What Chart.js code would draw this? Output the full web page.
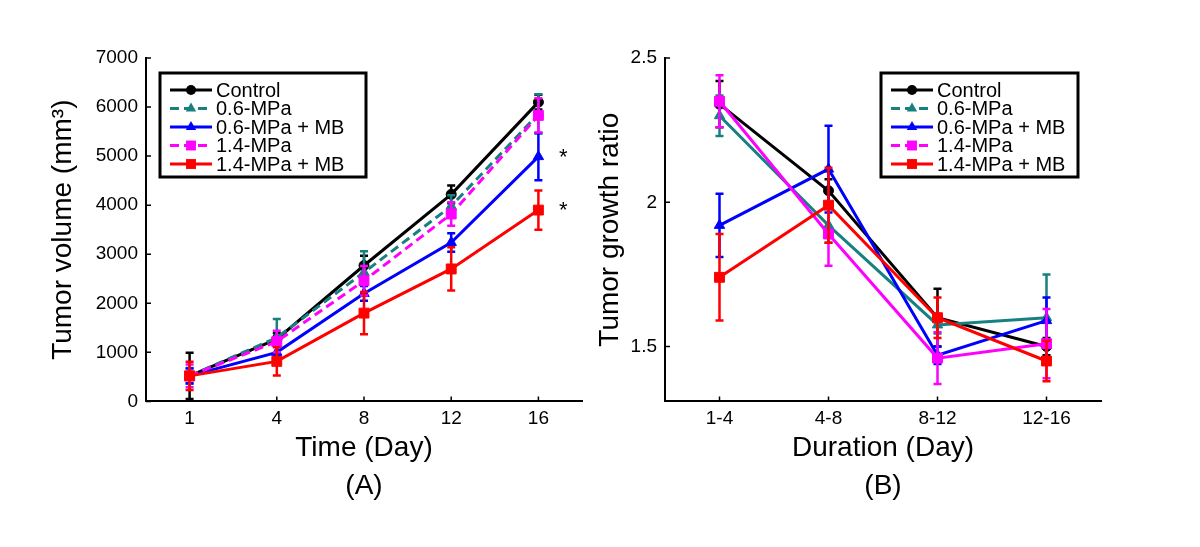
<!DOCTYPE html>
<html><head><meta charset="utf-8">
<script src="https://cdn.jsdelivr.net/npm/chart.js@4.4.0/dist/chart.umd.min.js"></script>
<style>
html,body{margin:0;padding:0;background:#fff;width:1200px;height:547px;overflow:hidden}
#cA{position:absolute;left:0;top:0}
#cB{position:absolute;left:590px;top:0}
</style></head><body>
<canvas id="cA" width="600" height="547"></canvas>
<canvas id="cB" width="610" height="547"></canvas>
<script>
// ---------- DATA ----------
const seriesNames = ['Control', '0.6-MPa', '0.6-MPa + MB', '1.4-MPa', '1.4-MPa + MB'];

// (A) tumor volume (mm^3) by day
const days = ['1', '4', '8', '12', '16'];
const volControl = [520, 1270, 2770, 4220, 6100];
const volControlErr = [470, 120, 200, 180, 150];
const vol06 = [520, 1300, 2630, 3980, 5860];
const vol06Err = [160, 380, 430, 220, 400];
const vol06MB = [520, 1000, 2200, 3240, 4990];
const vol06MBErr = [150, 130, 150, 190, 480];
const vol14 = [520, 1220, 2460, 3820, 5830];
const vol14Err = [230, 220, 300, 240, 350];
const vol14MB = [520, 816, 1800, 2700, 3900];
const vol14MBErr = [290, 290, 430, 440, 400];
const volSignificant = ['', '', '*', '', '*'];
const volTicks = [0, 1000, 2000, 3000, 4000, 5000, 6000, 7000];

// (B) tumor growth ratio by duration
const durations = ['1-4', '4-8', '8-12', '12-16'];
const grControl = [2.34, 2.04, 1.60, 1.50];
const grControlErr = [0.08, 0.04, 0.10, 0.03];
const gr06 = [2.30, 1.92, 1.575, 1.60];
const gr06Err = [0.07, 0.06, 0.03, 0.15];
const gr06MB = [1.92, 2.115, 1.47, 1.59];
const gr06MBErr = [0.11, 0.15, 0.03, 0.08];
const gr14 = [2.35, 1.89, 1.46, 1.51];
const gr14Err = [0.09, 0.11, 0.09, 0.12];
const gr14MB = [1.74, 1.99, 1.60, 1.45];
const gr14MBErr = [0.15, 0.13, 0.07, 0.07];
const grTicks = [1.5, 2, 2.5];

// ---------- STYLE ----------
const FONT = "'Liberation Sans', Arial, Helvetica, sans-serif";
const colors = ['#000000', '#178080', '#0000ff', '#ff00ff', '#ff0000'];
const markers = ['circle', 'triangle', 'triangle', 'rect', 'rect'];
const markerR = [5, 6, 6, 7, 7];
const dashes = [[], [9, 5], [], [9, 5], []];

function makeDatasets(values, errors, useDash) {
  return values.map((v, i) => ({
    label: seriesNames[i],
    data: v,
    errors: errors[i],
    borderColor: colors[i],
    backgroundColor: colors[i],
    pointBackgroundColor: colors[i],
    pointBorderColor: colors[i],
    pointStyle: markers[i],
    pointRadius: markerR[i],
    pointBorderWidth: 1,
    borderWidth: 3,
    borderDash: useDash ? dashes[i] : [],
    legendDash: dashes[i],
    tension: 0,
    fill: false,
    order: 10 - i
  }));
}

function drawMarker(ctx, style, x, y, r, color) {
  ctx.save();
  ctx.fillStyle = color; ctx.strokeStyle = color; ctx.setLineDash([]);
  ctx.beginPath();
  if (style === 'circle') {
    ctx.arc(x, y, r, 0, Math.PI * 2);
  } else if (style === 'triangle') {
    let a = 0;
    ctx.moveTo(x + Math.sin(a) * r, y - Math.cos(a) * r);
    a += 2 * Math.PI / 3;
    ctx.lineTo(x + Math.sin(a) * r, y - Math.cos(a) * r);
    a += 2 * Math.PI / 3;
    ctx.lineTo(x + Math.sin(a) * r, y - Math.cos(a) * r);
    ctx.closePath();
  } else {
    const s = r * Math.SQRT1_2;
    ctx.rect(x - s, y - s, 2 * s, 2 * s);
  }
  ctx.fill();
  ctx.restore();
}

const errorBarPlugin = {
  id: 'errorBars',
  afterDatasetDraw(chart, args) {
    const ds = chart.data.datasets[args.index];
    if (!ds.errors) return;
    const ys = chart.scales.y;
    const ctx = chart.ctx;
    ctx.save();
    ctx.strokeStyle = ds.borderColor;
    ctx.lineWidth = 2.5;
    ctx.setLineDash([]);
    args.meta.data.forEach((pt, i) => {
      const v = ds.data[i], e = ds.errors[i];
      const yt = ys.getPixelForValue(v + e), yb = ys.getPixelForValue(v - e);
      const x = pt.x, cw = 4;
      ctx.beginPath();
      ctx.moveTo(x, yt); ctx.lineTo(x, yb);
      ctx.moveTo(x - cw, yt); ctx.lineTo(x + cw, yt);
      ctx.moveTo(x - cw, yb); ctx.lineTo(x + cw, yb);
      ctx.stroke();
    });
    ctx.restore();
  }
};

const innerTicksPlugin = {
  id: 'innerTicks',
  afterDraw(chart) {
    const ctx = chart.ctx, ca = chart.chartArea;
    ctx.save();
    ctx.strokeStyle = '#000'; ctx.lineWidth = 1.5; ctx.setLineDash([]);
    const xs = chart.scales.x, ys = chart.scales.y;
    ctx.beginPath();
    xs.ticks.forEach((t, i) => {
      const px = xs.getPixelForTick(i);
      ctx.moveTo(px, ca.bottom); ctx.lineTo(px, ca.bottom - 5);
    });
    ys.ticks.forEach((t, i) => {
      const py = ys.getPixelForTick(i);
      ctx.moveTo(ca.left, py); ctx.lineTo(ca.left + 5, py);
    });
    ctx.stroke();
    ctx.restore();
  }
};

function makeLegendPlugin(cfg) {
  return {
    id: 'boxLegend',
    afterDraw(chart) {
      const ctx = chart.ctx, ca = chart.chartArea;
      const bx = cfg.side === 'left' ? ca.left + cfg.dx : ca.right - cfg.dx - cfg.w;
      const by = ca.top + cfg.dy;
      ctx.save();
      ctx.fillStyle = '#fff';
      ctx.fillRect(bx, by, cfg.w, cfg.h);
      ctx.strokeStyle = '#000'; ctx.lineWidth = 3; ctx.setLineDash([]);
      ctx.strokeRect(bx, by, cfg.w, cfg.h);
      ctx.font = '20px ' + FONT;
      ctx.textBaseline = 'middle';
      ctx.textAlign = 'left';
      chart.data.datasets.forEach((ds, i) => {
        const y = by + 17 + i * 18.5;
        ctx.strokeStyle = ds.borderColor; ctx.lineWidth = 3;
        ctx.setLineDash(ds.legendDash);
        ctx.beginPath();
        ctx.moveTo(bx + 10, y); ctx.lineTo(bx + 52, y);
        ctx.stroke();
        ctx.setLineDash([]);
        drawMarker(ctx, ds.pointStyle, bx + 31, y, ds.pointRadius, ds.borderColor);
        ctx.fillStyle = '#000';
        ctx.fillText(ds.label, bx + 56, y + 1);
      });
      ctx.restore();
    }
  };
}

const asteriskPlugin = {
  id: 'asterisks',
  afterDraw(chart) {
    const ctx = chart.ctx, ys = chart.scales.y;
    ctx.save();
    ctx.fillStyle = '#000';
    ctx.font = '22px ' + FONT;
    ctx.textAlign = 'center'; ctx.textBaseline = 'middle';
    volSignificant.forEach((s, i) => {
      if (!s) return;
      const meta = chart.getDatasetMeta(i);
      const last = meta.data.length - 1;
      const pt = meta.data[last];
      const v = chart.data.datasets[i].data[last];
      ctx.fillText(s, pt.x + 25, ys.getPixelForValue(v) + 1);
    });
    ctx.restore();
  }
};

function axisCommon(extra) {
  return Object.assign({
    grid: { display: true, drawOnChartArea: false, drawTicks: false },
    border: { display: true, color: '#000', width: 2 }
  }, extra);
}

const plainNumber = v => String(Math.round(v * 1000) / 1000);

// ---------- CHART A ----------
new Chart(document.getElementById('cA'), {
  type: 'line',
  data: {
    labels: days,
    datasets: makeDatasets([volControl, vol06, vol06MB, vol14, vol14MB],
                           [volControlErr, vol06Err, vol06MBErr, vol14Err, vol14MBErr], true)
  },
  options: {
    responsive: false, animation: false, devicePixelRatio: 1,
    layout: { padding: { left: 0, right: 18, top: 58, bottom: 44 } },
    plugins: {
      legend: { display: false }, tooltip: { enabled: false },
      title: { display: true, text: '(A)', position: 'bottom', fullSize: false, color: '#000',
               font: { family: FONT, size: 28, weight: 'normal' }, padding: { top: 4, bottom: 0 } }
    },
    scales: {
      x: axisCommon({
        type: 'category', offset: true,
        ticks: { color: '#000', font: { family: FONT, size: 19 }, padding: 6, maxRotation: 0 },
        title: { display: true, text: 'Time (Day)', color: '#000', font: { family: FONT, size: 28 }, padding: { top: 0, bottom: 0 } },
        afterFit: s => { s.height = 64; }
      }),
      y: axisCommon({
        min: volTicks[0], max: volTicks[volTicks.length - 1],
        ticks: { stepSize: volTicks[1] - volTicks[0], color: '#000', font: { family: FONT, size: 19 }, padding: 8, callback: plainNumber },
        title: { display: true, text: 'Tumor volume (mm³)', color: '#000', font: { family: FONT, size: 28 }, padding: { top: 46, bottom: 0 } },
        afterFit: s => { s.width = 146; }
      })
    }
  },
  plugins: [errorBarPlugin, innerTicksPlugin, asteriskPlugin,
            makeLegendPlugin({ side: 'left', dx: 14, dy: 15, w: 206, h: 104 })]
});

// ---------- CHART B ----------
new Chart(document.getElementById('cB'), {
  type: 'line',
  data: {
    labels: durations,
    datasets: makeDatasets([grControl, gr06, gr06MB, gr14, gr14MB],
                           [grControlErr, gr06Err, gr06MBErr, gr14Err, gr14MBErr], false)
  },
  options: {
    responsive: false, animation: false, devicePixelRatio: 1,
    layout: { padding: { left: 0, right: 99, top: 58, bottom: 44 } },
    plugins: {
      legend: { display: false }, tooltip: { enabled: false },
      title: { display: true, text: '(B)', position: 'bottom', fullSize: false, color: '#000',
               font: { family: FONT, size: 28, weight: 'normal' }, padding: { top: 4, bottom: 0 } }
    },
    scales: {
      x: axisCommon({
        type: 'category', offset: true,
        ticks: { color: '#000', font: { family: FONT, size: 19 }, padding: 6, maxRotation: 0 },
        title: { display: true, text: 'Duration (Day)', color: '#000', font: { family: FONT, size: 28 }, padding: { top: 0, bottom: 0 } },
        afterFit: s => { s.height = 64; }
      }),
      y: axisCommon({
        min: 1.31, max: grTicks[grTicks.length - 1],
        ticks: { stepSize: grTicks[1] - grTicks[0], includeBounds: false, color: '#000', font: { family: FONT, size: 19 }, padding: 8, callback: plainNumber },
        title: { display: true, text: 'Tumor growth ratio', color: '#000', font: { family: FONT, size: 28 }, padding: { top: 3, bottom: 0 } },
        afterFit: s => { s.width = 75; }
      })
    }
  },
  plugins: [errorBarPlugin, innerTicksPlugin,
            makeLegendPlugin({ side: 'right', dx: 23, dy: 15, w: 197, h: 104 })]
});
</script>
</body></html>
